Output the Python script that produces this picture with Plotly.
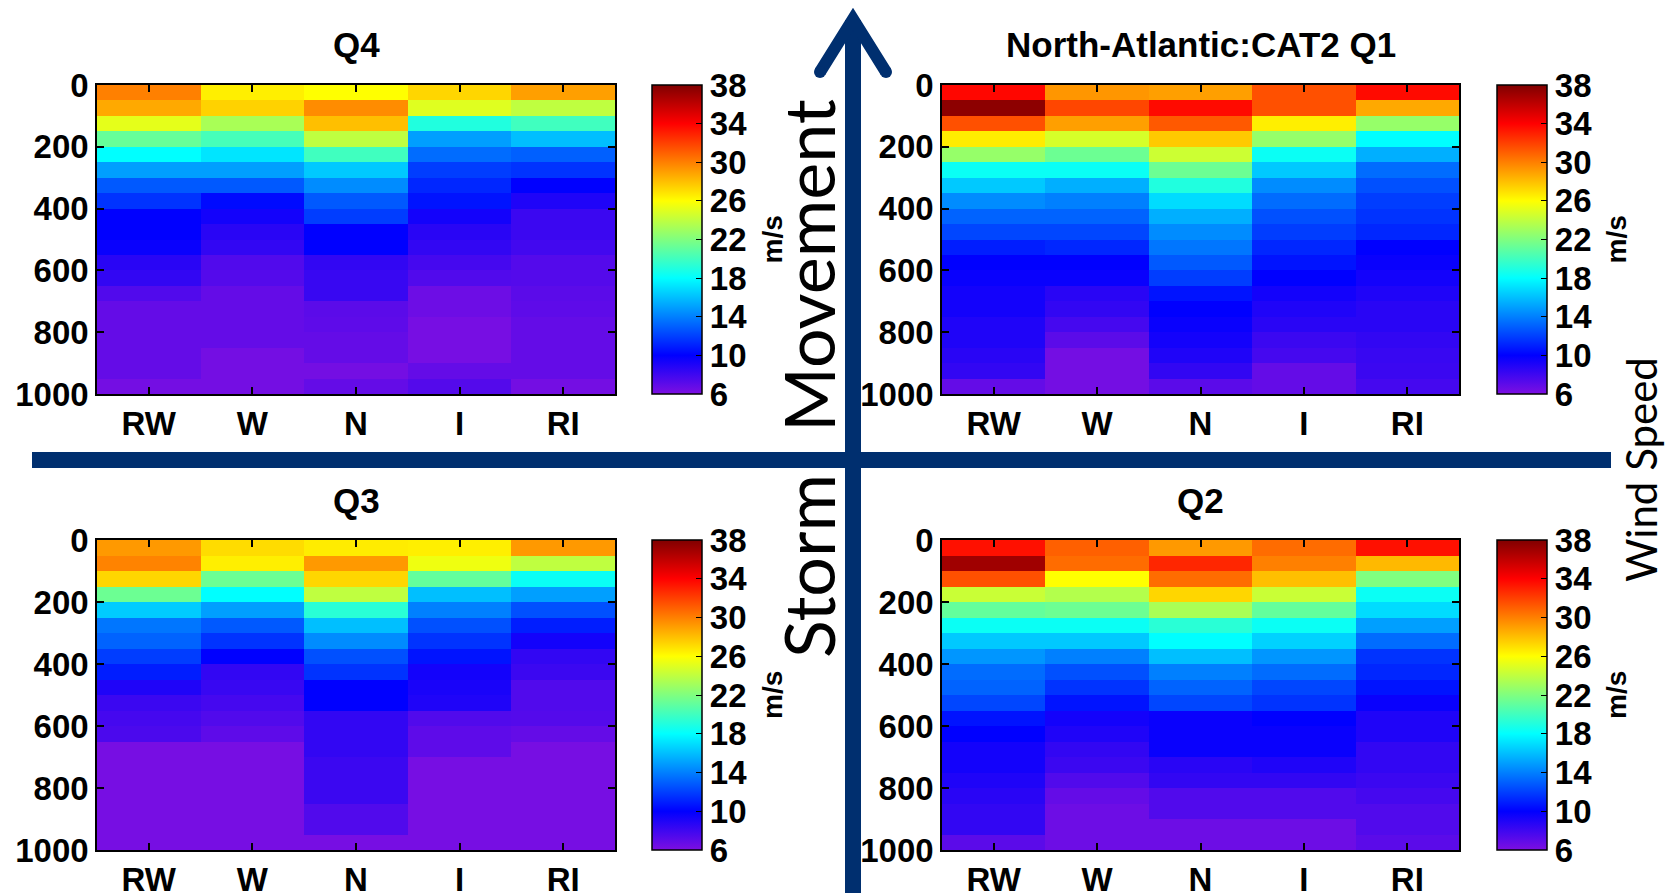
import numpy as np
import plotly.graph_objects as go

# ---------------- data ----------------
categories = ["RW", "W", "N", "I", "RI"]
pressure_levels = [25, 75, 125, 175, 225, 275, 325, 375, 425, 475,
                   525, 575, 625, 675, 725, 775, 825, 875, 925, 975]
y_ticks = [0, 200, 400, 600, 800, 1000]
cbar_ticks = [6, 10, 14, 18, 22, 26, 30, 34, 38]

# wind speed (m/s); one list per category column, top (0 hPa) to bottom (1000 hPa)
q4_values = [
    [30, 28.7, 25.2, 21.2, 18, 15, 12.8, 11.6, 10, 10, 9.7, 8.7, 8.4, 7.4, 6.8, 6.8, 6.8, 6.8, 6.8, 6.3],
    [26.5, 27.4, 23.3, 20.2, 17.2, 15, 12.8, 10.3, 9.4, 8.7, 8.4, 7.4, 7.3, 6.8, 6.8, 6.8, 6.8, 6.3, 6.3, 6.3],
    [26, 29.6, 28, 24, 20, 16.3, 14.4, 12.8, 11.9, 10, 10, 8.4, 8.2, 8.2, 7.1, 7.0, 6.8, 6.8, 6.3, 6.8],
    [27.3, 25, 19, 15, 13.4, 11.9, 11.2, 10.6, 9.4, 8.7, 8.4, 7.8, 7.4, 6.5, 6.5, 6.2, 6.2, 6.2, 6.8, 7.3],
    [29, 24, 20, 16, 13, 11.6, 10, 9.0, 8.1, 8.1, 7.9, 7.3, 7.3, 7.1, 7.0, 6.8, 6.8, 6.8, 6.8, 6.3],
]
q1_values = [
    [33.8, 37.6, 31.5, 26.6, 22.7, 18.3, 16.3, 14.4, 13.1, 12.2, 10.9, 10, 9.7, 9.4, 9.4, 9.0, 9.0, 8.7, 8.4, 6.8],
    [29.3, 31.8, 29, 24.7, 21.4, 18.3, 15.5, 14, 13.1, 12.2, 11.2, 10, 9.7, 8.7, 8.4, 7.8, 7.1, 6.3, 6.3, 6.3],
    [29, 33.7, 31.2, 27.7, 24.4, 21.4, 19, 16.9, 15.5, 14.4, 13.7, 12.8, 11.9, 10.6, 10, 9.7, 9.4, 9.0, 8.4, 7.1],
    [31.5, 31.5, 26.5, 22.7, 18.3, 16.3, 14.4, 13.4, 12.5, 11.9, 11.2, 10.6, 10, 9.4, 9.0, 8.7, 8.1, 7.8, 6.8, 6.8],
    [33.7, 28.7, 22.7, 18, 15.5, 13.4, 12.5, 11.9, 11.6, 11.2, 10, 9.7, 9.4, 9.0, 8.7, 8.7, 8.4, 8.2, 8.1, 7.8],
]
q3_values = [
    [29.2, 29.9, 27.3, 21.4, 16.4, 13.7, 13.1, 11.9, 10.9, 9.0, 8.1, 7.8, 7.6, 6.2, 6.2, 6.2, 6.2, 6.2, 6.2, 6.2],
    [27.1, 26.5, 21.4, 18, 15, 12.8, 11.6, 10, 8.4, 8.2, 7.8, 7.4, 7.0, 6.2, 6.2, 6.2, 6.2, 6.2, 6.2, 6.2],
    [26.6, 29.2, 27.3, 24, 19.3, 16, 14.4, 12.5, 11.6, 10, 10, 8.4, 8.4, 8.4, 8.1, 8.1, 8.1, 7.4, 7.4, 6.2],
    [26.5, 25.5, 21.1, 16, 14, 12.5, 11.6, 10.6, 9.4, 9.2, 9.0, 7.4, 7.0, 7.0, 6.2, 6.2, 6.2, 6.2, 6.2, 6.2],
    [29.2, 24, 18.3, 15, 12.5, 10.9, 9.4, 8.4, 8.1, 7.4, 7.4, 7.3, 6.8, 6.2, 6.2, 6.2, 6.2, 6.2, 6.2, 6.2],
]
q2_values = [
    [33.5, 37, 31.5, 24.3, 21.1, 18.3, 16.3, 14.7, 13.4, 13.1, 12.2, 10.6, 10, 9.4, 9.4, 9.0, 8.7, 8.4, 8.4, 7.1],
    [31, 30.6, 26, 23.6, 21.4, 18.3, 16.3, 14, 12.5, 11.6, 10.6, 9.4, 9.0, 8.4, 8.1, 7.4, 6.8, 6.5, 6.5, 6.5],
    [29.2, 32.8, 30.6, 27.3, 23.3, 19.3, 18, 16, 14, 13.1, 12.2, 9.7, 9.7, 9.7, 8.7, 8.4, 7.4, 7.4, 6.5, 6.5],
    [30.6, 30, 28, 24.3, 21.1, 18.3, 16.6, 14.7, 13.4, 12.2, 11.6, 10, 9.7, 9.7, 9.0, 8.4, 7.4, 7.4, 6.5, 6.5],
    [33.5, 28.2, 22, 18.3, 16.9, 15, 13.4, 11.6, 11.2, 10.6, 9.7, 9.0, 9.0, 8.4, 8.4, 8.1, 7.8, 7.4, 7.4, 7.1],
]
panel_titles = ["Q4", "North-Atlantic:CAT2 Q1", "Q3", "Q2"]

# ---------------- styling ----------------
W, H = 1665, 893
NAVY = "#002f6f"
colorscale = [
    [0.0, "rgb(125,15,225)"],
    [0.125, "rgb(0,0,255)"],
    [0.375, "rgb(0,255,255)"],
    [0.625, "rgb(255,255,0)"],
    [0.875, "rgb(255,0,0)"],
    [1.0, "rgb(128,0,0)"],
]
TICKFONT = dict(family="Liberation Sans", size=33, color="black", weight="bold")


def px(x):
    return x / W


def py(y):
    return 1 - y / H


panels = [
    dict(vals=q4_values, title=panel_titles[0], x0=97, x1=615, y0=85, y1=394, cbx=652, msx=772),
    dict(vals=q1_values, title=panel_titles[1], x0=942, x1=1459, y0=85, y1=394, cbx=1497, msx=1616),
    dict(vals=q3_values, title=panel_titles[2], x0=97, x1=615, y0=540, y1=850, cbx=652, msx=772),
    dict(vals=q2_values, title=panel_titles[3], x0=942, x1=1459, y0=540, y1=850, cbx=1497, msx=1616),
]

fig = go.Figure()
annotations = []
for i, p in enumerate(panels, start=1):
    z = np.array(p["vals"]).T
    fig.add_trace(go.Heatmap(
        x=categories, y=pressure_levels, z=z,
        colorscale=colorscale, zmin=6, zmax=38,
        xaxis=f"x{i}", yaxis=f"y{i}", hoverinfo="skip",
        colorbar=dict(
            x=px(p["cbx"]), xanchor="left", xref="paper",
            y=(py(p["y0"]) + py(p["y1"])) / 2, yanchor="middle",
            len=(p["y1"] - p["y0"]) / H, lenmode="fraction",
            thickness=50, thicknessmode="pixels", xpad=0, ypad=0,
            outlinecolor="black", outlinewidth=1.5,
            tickvals=cbar_ticks, ticks="inside", ticklen=6, tickcolor="black",
            tickfont=TICKFONT,
        ),
    ))
    fig.layout[f"xaxis{i}"] = dict(
        domain=[px(p["x0"]), px(p["x1"])], anchor=f"y{i}",
        showline=True, linecolor="black", linewidth=1.5, mirror="ticks",
        ticks="inside", ticklen=7, tickcolor="black", tickwidth=1.5,
        tickfont=TICKFONT, showgrid=False, zeroline=False, fixedrange=True,
        automargin=False,
    )
    fig.layout[f"yaxis{i}"] = dict(
        domain=[py(p["y1"]), py(p["y0"])], anchor=f"x{i}",
        range=[1000, 0], tickvals=y_ticks,
        showline=True, linecolor="black", linewidth=1.5, mirror="ticks",
        ticks="inside", ticklen=7, tickcolor="black", tickwidth=1.5,
        tickfont=TICKFONT, showgrid=False, zeroline=False, fixedrange=True,
        automargin=False,
    )
    annotations.append(dict(
        text=p["title"], xref="paper", yref="paper",
        x=px((p["x0"] + p["x1"]) / 2), y=py(p["y0"] - 40),
        xanchor="center", yanchor="middle", showarrow=False,
        font=dict(family="Liberation Sans", size=35, color="black", weight="bold"),
    ))
    annotations.append(dict(
        text="m/s", xref="paper", yref="paper", textangle=-90,
        x=px(p["msx"]), y=(py(p["y0"]) + py(p["y1"])) / 2,
        xanchor="center", yanchor="middle", showarrow=False,
        font=dict(family="Liberation Sans", size=28, color="black", weight="bold"),
    ))

BIG = dict(family="Lato", size=70, color="black")
annotations += [
    dict(text="Movement", xref="paper", yref="paper", textangle=-90,
         x=px(808), y=py(266), xanchor="center", yanchor="middle",
         showarrow=False, font=BIG),
    dict(text="Storm", xref="paper", yref="paper", textangle=-90,
         x=px(808), y=py(566), xanchor="center", yanchor="middle",
         showarrow=False, font=BIG),
    dict(text="Wind Speed", xref="paper", yref="paper", textangle=-90,
         x=px(1641), y=py(470), xanchor="center", yanchor="middle",
         showarrow=False, font=dict(family="Lato", size=42, color="black")),
]

shapes = [
    dict(type="line", xref="paper", yref="paper",
         x0=px(32), x1=px(1611), y0=py(460), y1=py(460),
         line=dict(color=NAVY, width=16), layer="above"),
    dict(type="line", xref="paper", yref="paper",
         x0=px(853), x1=px(853), y0=py(893), y1=py(20),
         line=dict(color=NAVY, width=16), layer="above"),
    dict(type="path", xref="paper", yref="paper",
         path=f"M {px(820)},{py(72)} L {px(853)},{py(19)} L {px(886)},{py(72)}",
         line=dict(color=NAVY, width=12), layer="above"),
]
for cx in (820, 886):
    shapes.append(dict(type="circle", xref="paper", yref="paper",
                       x0=px(cx - 6), x1=px(cx + 6), y0=py(72 + 6), y1=py(72 - 6),
                       fillcolor=NAVY, line=dict(width=0), layer="above"))

fig.update_layout(
    width=W, height=H,
    margin=dict(l=0, r=0, t=0, b=0, pad=0, autoexpand=False),
    paper_bgcolor="white", plot_bgcolor="white",
    annotations=annotations, shapes=shapes, showlegend=False,
)

fig.write_html("out.html")
